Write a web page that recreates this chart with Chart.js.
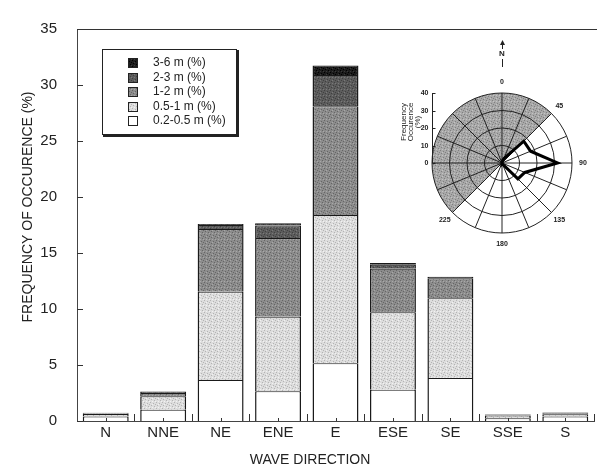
<!DOCTYPE html>
<html lang="en">
  <head>
    <meta charset="UTF-8" />
    <title>Wave direction frequency</title>
    <script src="https://cdn.jsdelivr.net/npm/chart.js@4.4.0/dist/chart.umd.min.js"></script>
    <style>
      html, body { margin: 0; padding: 0; background: #fff; }
      #wrap { position: relative; width: 597px; height: 472px; }
      #chart { position: absolute; left: 0; top: 0; }
      #rose { position: absolute; left: 380px; top: 30px; }
    </style>
  </head>
  <body>
    <div id="wrap">
      <canvas id="chart" width="597" height="472"></canvas>
      <canvas id="rose" width="217" height="230"></canvas>
    </div>
    <script>
      // wave direction categories (x axis)
      const directions = ["N", "NNE", "NE", "ENE", "E", "ESE", "SE", "SSE", "S"];

      // frequency of occurence (%) per wave height class
      const h02to05 = [0.40, 1.00, 3.65, 2.65, 5.15, 2.80, 3.85, 0.25, 0.40];
      const h05to1 = [0.22, 1.20, 7.90, 6.65, 13.25, 6.90, 7.10, 0.25, 0.20];
      const h1to2 = [0.08, 0.30, 5.60, 7.05, 9.70, 3.90, 1.80, 0.08, 0.10];
      const h2to3 = [0.04, 0.10, 0.35, 1.10, 2.80, 0.35, 0.10, 0.02, 0.05];
      const h3to6 = [0.00, 0.04, 0.10, 0.20, 0.85, 0.15, 0.02, 0.00, 0.00];

      const classLabels = ["0.2-0.5 m (%)", "0.5-1 m (%)", "1-2 m (%)", "2-3 m (%)", "3-6 m (%)"];
      const yTicks = [0, 5, 10, 15, 20, 25, 30, 35];

      // compass bearings for the inset rose (16 points)
      const roseBearings = ["0", "22.5", "45", "67.5", "90", "112.5", "135", "157.5",
        "180", "202.5", "225", "247.5", "270", "292.5", "315", "337.5"];
      const roseShownLabels = ["0", "", "45", "", "90", "", "135", "", "180", "", "225", "", "", "", "", ""];
      const roseTicks = [0, 10, 20, 30, 40];

      const font = "Liberation Sans, Arial, sans-serif";

      // small stippled fills, like the printed halftone
      function stipple(base, dot, light) {
        const c = document.createElement("canvas");
        c.width = 6;
        c.height = 6;
        const g = c.getContext("2d");
        g.fillStyle = base;
        g.fillRect(0, 0, 6, 6);
        g.fillStyle = dot;
        [[0, 0], [3, 1], [1, 3], [4, 4], [5, 2]].forEach(([x, y]) => g.fillRect(x, y, 1, 1));
        if (light) {
          g.fillStyle = light;
          [[2, 5], [5, 5], [2, 2]].forEach(([x, y]) => g.fillRect(x, y, 1, 1));
        }
        return g.createPattern(c, "repeat");
      }

      const classColors = [
        "#ffffff",
        stipple("#dddddd", "#b4b4b4", "#f2f2f2"),
        stipple("#8c8c8c", "#666666", "#a8a8a8"),
        stipple("#5c5c5c", "#404040", "#7a7a7a"),
        stipple("#1c1c1c", "#000000", "#3a3a3a"),
      ];
      const landFill = stipple("#a8a8a8", "#808080", "#c4c4c4");

      const series = [h02to05, h05to1, h1to2, h2to3, h3to6];
      // total per direction, used for the rose outline (N..S, the rest is land)
      const roseValues = roseBearings.map((b, i) =>
        i < directions.length ? series.reduce((s, arr) => s + arr[i], 0) : 0
      );

      function line(ctx, x1, y1, x2, y2) {
        ctx.beginPath();
        ctx.moveTo(x1, y1);
        ctx.lineTo(x2, y2);
        ctx.stroke();
      }

      // frame, inward ticks, legend box and axis titles
      const decor = {
        id: "decor",
        afterDraw(chart) {
          const ctx = chart.ctx;
          const a = chart.chartArea;
          const xs = chart.scales.x;
          const ys = chart.scales.y;
          ctx.save();
          ctx.strokeStyle = "#333";
          ctx.lineWidth = 1;
          // top frame line
          line(ctx, a.left, a.top + 0.5, chart.width, a.top + 0.5);
          // y ticks pointing in
          ys.ticks.forEach((t) => {
            const py = Math.round(ys.getPixelForValue(t.value)) + 0.5;
            line(ctx, a.left, py, a.left + 6, py);
          });
          // x ticks at centres and category boundaries
          const step = (a.right - a.left) / directions.length;
          directions.forEach((d, i) => {
            const px = Math.round(xs.getPixelForTick(i)) + 0.5;
            line(ctx, px, a.bottom, px, a.bottom - 3);
            const bx = Math.round(a.left + step * (i + 1)) + 0.5;
            line(ctx, bx, a.bottom, bx, a.bottom - 7);
          });

          // legend
          ctx.fillStyle = "#fff";
          ctx.fillRect(102, 49, 135, 86);
          ctx.strokeStyle = "#222";
          ctx.strokeRect(102.5, 49.5, 134, 85);
          ctx.lineWidth = 2;
          line(ctx, 103, 136, 238, 136);
          line(ctx, 238, 50, 238, 137);
          ctx.lineWidth = 1;
          const ds = chart.data.datasets;
          ctx.font = "12px " + font;
          ctx.textBaseline = "middle";
          ctx.textAlign = "left";
          for (let k = 0; k < ds.length; k++) {
            const d = ds[ds.length - 1 - k];
            const cy = Math.round(63 + k * 14.6);
            ctx.fillStyle = d.backgroundColor;
            ctx.fillRect(128, cy - 5, 10, 10);
            ctx.strokeStyle = "#222";
            ctx.strokeRect(128.5, cy - 4.5, 9, 9);
            ctx.fillStyle = "#222";
            ctx.fillText(d.label, 153, cy);
          }

          // axis titles
          ctx.font = "14px " + font;
          ctx.textAlign = "center";
          ctx.fillText("WAVE DIRECTION", 310, 460);
          ctx.translate(28, 207);
          ctx.rotate(-Math.PI / 2);
          ctx.fillText("FREQUENCY OF OCCURENCE (%)", 0, 0);
          ctx.restore();
        },
      };

      new Chart(document.getElementById("chart"), {
        type: "bar",
        data: {
          labels: directions,
          datasets: series.map((arr, i) => ({
            label: classLabels[i],
            data: arr,
            backgroundColor: classColors[i],
            borderColor: "#1a1a1a",
            borderWidth: { top: 1, left: 1.5, right: 1.5, bottom: 0 },
            categoryPercentage: 0.8,
            barPercentage: 1,
          })),
        },
        options: {
          responsive: false,
          animation: false,
          layout: { padding: { top: 19, right: 3, left: 0, bottom: 0 } },
          plugins: { legend: { display: false }, tooltip: { enabled: false } },
          scales: {
            x: {
              stacked: true,
              grid: { display: false, drawTicks: false },
              border: { display: true, color: "#444", width: 1 },
              ticks: { color: "#222", font: { family: font, size: 15 }, padding: 3 },
              afterFit: (s) => { s.height = 51; },
            },
            y: {
              stacked: true,
              min: 0,
              max: 35,
              afterBuildTicks: (s) => { s.ticks = yTicks.map((v) => ({ value: v })); },
              grid: { display: false, drawTicks: false },
              border: { display: true, color: "#444", width: 1 },
              ticks: { color: "#222", font: { family: font, size: 15 }, padding: 20 },
              afterFit: (s) => { s.width = 77; },
            },
          },
        },
        plugins: [decor],
      });

      // land sector, axis, labels and north arrow of the inset rose
      const roseDecor = {
        id: "roseDecor",
        beforeDraw(chart) {
          const r = chart.scales.r;
          const ctx = chart.ctx;
          ctx.save();
          ctx.fillStyle = landFill;
          ctx.beginPath();
          ctx.moveTo(r.xCenter, r.yCenter);
          ctx.arc(r.xCenter, r.yCenter, r.drawingArea, Math.PI * 0.75, Math.PI * 1.75);
          ctx.closePath();
          ctx.fill();
          ctx.restore();
        },
        afterDraw(chart) {
          const r = chart.scales.r;
          const ctx = chart.ctx;
          const xc = r.xCenter;
          const yc = r.yCenter;
          const R = r.drawingArea;
          ctx.save();
          ctx.strokeStyle = "#222";
          ctx.fillStyle = "#222";
          ctx.lineWidth = 1;
          // left radial axis
          const ax = Math.round(xc - R) + 0.5;
          line(ctx, ax, yc, ax, yc - R);
          ctx.font = "bold 7px " + font;
          ctx.textAlign = "right";
          ctx.textBaseline = "middle";
          roseTicks.forEach((v) => {
            const py = Math.round(yc - r.getDistanceFromCenterForValue(v)) + 0.5;
            line(ctx, ax, py, ax + 3, py);
            ctx.fillText(String(v), ax - 4, py);
          });
          // rotated axis title
          ctx.save();
          ctx.translate(ax - 22, yc - R / 2 - 6);
          ctx.rotate(-Math.PI / 2);
          ctx.textAlign = "center";
          ctx.font = "8px " + font;
          ctx.fillText("Frequency", 0, -7);
          ctx.fillText("Occurence", 0, 0);
          ctx.fillText("(%)", 0, 7);
          ctx.restore();
          // bearing labels
          ctx.textAlign = "center";
          ctx.font = "bold 7px " + font;
          roseShownLabels.forEach((lab, i) => {
            if (!lab) return;
            const p = r.getPointPosition(i, R + 11);
            ctx.fillText(lab, p.x, p.y);
          });
          // north arrow
          const top = yc - R - 51;
          ctx.font = "bold 8px " + font;
          ctx.fillText("N", xc, top + 12);
          line(ctx, xc + 0.5, top, xc + 0.5, top + 7);
          line(ctx, xc + 0.5, top + 17, xc + 0.5, top + 25);
          ctx.beginPath();
          ctx.moveTo(xc + 0.5, top - 2);
          ctx.lineTo(xc - 2, top + 3);
          ctx.lineTo(xc + 3, top + 3);
          ctx.closePath();
          ctx.fill();
          ctx.restore();
        },
      };

      new Chart(document.getElementById("rose"), {
        type: "radar",
        data: {
          labels: roseBearings,
          datasets: [
            {
              data: roseValues,
              borderColor: "#000",
              borderWidth: 3,
              pointRadius: 0,
              fill: false,
            },
          ],
        },
        options: {
          responsive: false,
          animation: false,
          layout: { padding: { left: 52, right: 25, top: 63, bottom: 27 } },
          plugins: { legend: { display: false }, tooltip: { enabled: false } },
          scales: {
            r: {
              min: 0,
              max: 40,
              ticks: { display: false, stepSize: 10 },
              pointLabels: { display: false },
              grid: { circular: true, color: "#222", lineWidth: 1 },
              angleLines: { color: "#222", lineWidth: 1 },
            },
          },
        },
        plugins: [roseDecor],
      });
    </script>
  </body>
</html>
